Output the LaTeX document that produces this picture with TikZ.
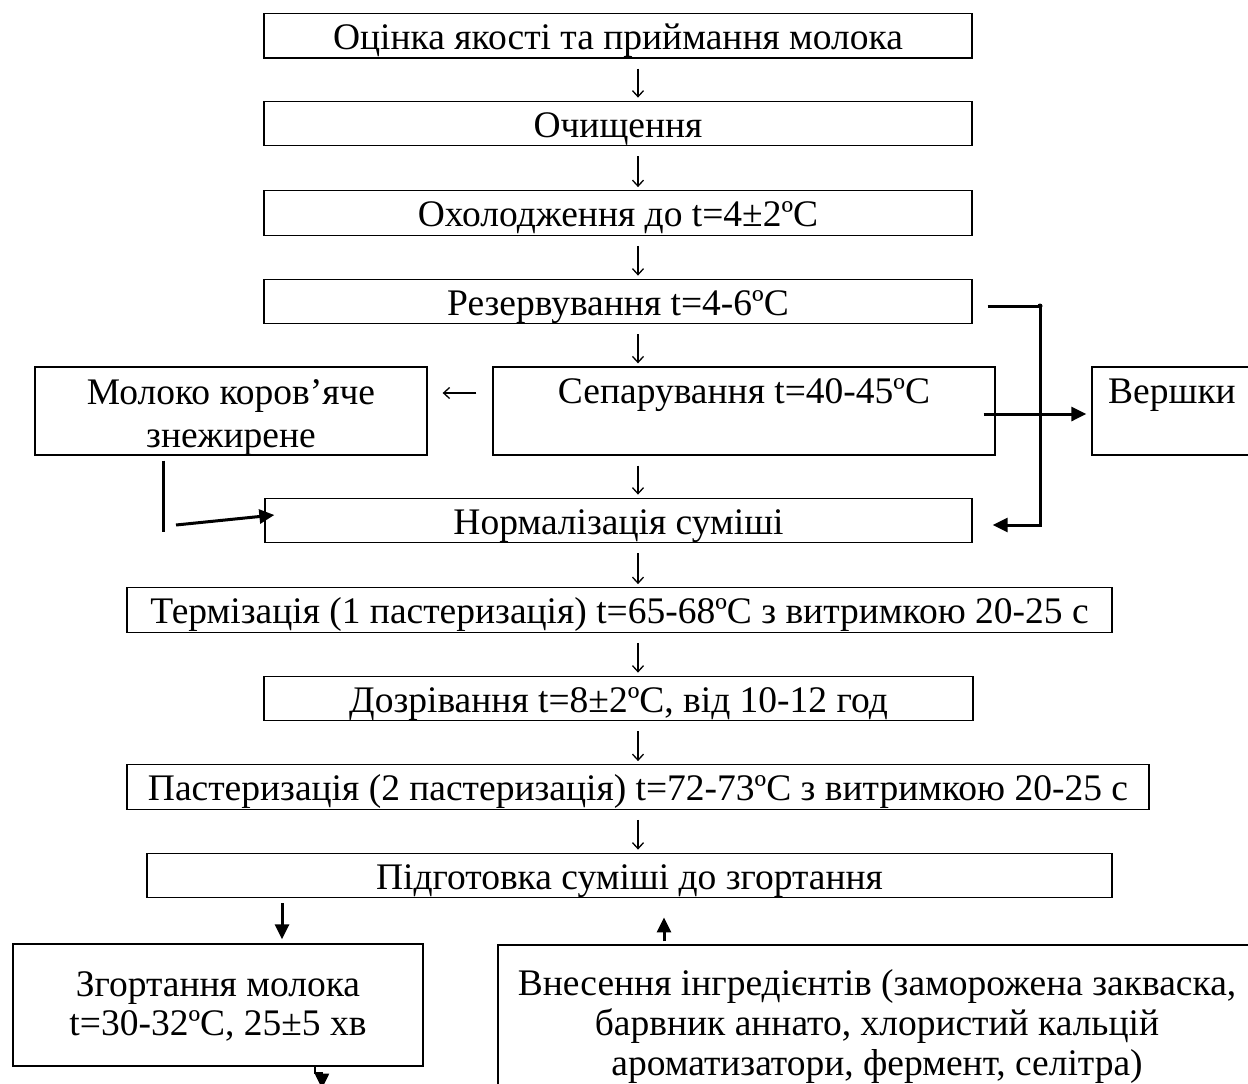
\documentclass[tikz,border=0pt]{standalone}
\usepackage{fontspec}
\setmainfont{Liberation Serif}
\usetikzlibrary{arrows.meta,positioning,calc}

\begin{document}
\begin{tikzpicture}[x=1pt, y=-1pt,
    box/.style={rectangle, draw, line width=1.3pt, inner sep=0pt, align=center, font=\fontsize{37.5}{39}\selectfont},
    stage/.style={box, minimum height=44.5pt, text height=27pt, text depth=0pt},
    tall/.style={box, minimum height=88pt, text height=36pt, text depth=52pt},
    flow/.style={-{Straight Barb[length=6pt,width=11pt]}, line width=1.3pt, shorten <=10pt, shorten >=3pt},
    link/.style={-{Triangle[length=15pt,width=14pt]}, line width=3pt},
    bar/.style={line width=3pt}
]
    \useasboundingbox (0,0) rectangle (1248,1084);

    % main line
    \node[stage, minimum width=708pt] (ocinka) at (618,35.75) {Оцінка якості та приймання молока};
    \node[stage, minimum width=708pt] (ochysch) at (618,123.5) {Очищення};
    \node[stage, minimum width=708pt] (okhol) at (618,213) {Охолодження до t=4±2ºC};
    \node[stage, minimum width=708pt] (rezerv) at (618,301.5) {Резервування t=4-6ºC};
    \node[tall, minimum width=502pt] (separ) at (744,411) {Сепарування t=40-45ºC};
    \node[box, minimum width=392pt, minimum height=88pt, text height=80pt, text depth=8pt, font=\fontsize{37.5}{43}\selectfont] (molok) at (231,411) {Молоко коров’яче\\знежирене};
    \node[tall, minimum width=160pt] (vershky) at (1172,411) {Вершки};
    \node[stage, minimum width=707pt] (normal) at (618.5,520.5) {Нормалізація суміші};
    \node[stage, minimum width=985pt] (termiz) at (619.5,610) {Термізація (1 пастеризація) t=65-68ºC з витримкою 20-25 с};
    \node[stage, minimum width=709pt] (dozriv) at (618.5,698.5) {Дозрівання t=8±2ºC, від 10-12 год};
    \node[stage, minimum width=1022pt] (paster) at (638,787) {Пастеризація (2 пастеризація) t=72-73ºC з витримкою 20-25 с};
    \node[stage, minimum width=965pt] (pidgot) at (629.5,875.5) {Підготовка суміші до згортання};
    \node[box, minimum width=410pt, minimum height=122pt, text height=91pt, text depth=31pt, font=\fontsize{37.5}{39}\selectfont] (zgort) at (218,1005) {Згортання молока\\t=30-32ºC, 25±5 хв};
    \node[box, minimum width=758pt, minimum height=160pt, text height=130pt, text depth=30pt, font=\fontsize{37.5}{40}\selectfont] (vnes) at (877,1025) {Внесення інгредієнтів (заморожена закваска,\\барвник аннато, хлористий кальцій\\ароматизатори, фермент, селітра)};

    % thin arrows
    \coordinate (axis) at (638,0);
    \foreach \a/\b in {ocinka/ochysch, ochysch/okhol, okhol/rezerv, rezerv/separ, separ/normal, normal/termiz, termiz/dozriv, dozriv/paster, paster/pidgot}
        \draw[flow] (\a.south -| axis) -- (\b.north -| axis);
    \draw[flow, shorten <=16pt, shorten >=15pt] ([yshift=18pt]separ.west) -- ([yshift=18pt]molok.east);

    % cream and return line
    \coordinate (tee) at (1040,306);
    \coordinate (back) at (1040,525);
    \draw[link, shorten <=15pt, shorten >=20pt] ([yshift=-4.5pt]rezerv.east) -- (tee) -- (back) -- ([yshift=-4.5pt]normal.east);
    \fill (tee) circle (2.5pt);
    \draw[link, shorten <=-12pt, shorten >=5pt] ([yshift=-3pt]separ.east) -- ([yshift=-3pt]vershky.west);

    % skim milk
    \coordinate (drop) at (163,532);
    \draw[bar, shorten <=5pt] (molok.south -| drop) -- (drop);
    \draw[link] ([shift={(13,-7)}]drop) -- ([shift={(10,-5.5)}]normal.west);

    % bottom
    \coordinate (inlet) at (282,940);
    \coordinate (feed) at (664,940);
    \coordinate (exit) at (315,1066);
    \draw[link, shorten <=5pt, shorten >=4pt] (pidgot.south -| inlet) -- (zgort.north -| inlet);
    \draw[link, shorten <=3pt, shorten >=19pt] (vnes.north -| feed) -- (pidgot.south -| feed);
    \draw[link, line width=2pt] (zgort.south -| exit) -- ++(0,6) -- ++(7,0) -- ++(0,16);
\end{tikzpicture}
\end{document}
